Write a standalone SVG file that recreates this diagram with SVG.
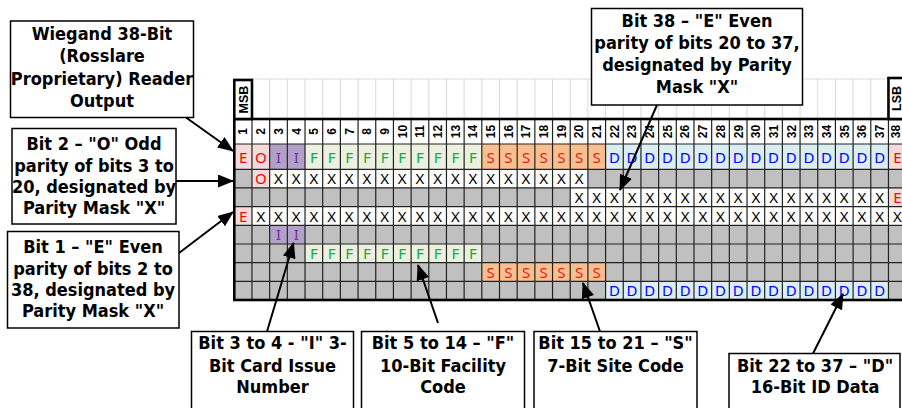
<svg xmlns="http://www.w3.org/2000/svg" width="902" height="408" viewBox="0 0 902 408">
<style>
.box{fill:#fff;stroke:#000;stroke-width:1.5}
.c{font-family:"DejaVu Sans","Liberation Sans",sans-serif;font-weight:bold;font-stretch:condensed;font-size:18px;text-anchor:middle;fill:#000}
.hn{font-family:"Liberation Sans",Arial,sans-serif;font-weight:bold;font-size:12px;text-anchor:middle;fill:#000}
.sb{font-family:"Liberation Sans",Arial,sans-serif;font-weight:bold;font-size:12.5px;text-anchor:middle;fill:#000}
.d{font-family:"Noto Sans","DejaVu Sans",sans-serif;font-size:15px;text-anchor:middle}
.r{fill:#FF0000}.p{fill:#7030A0}.g{fill:#00B050}.s{fill:#E01E1E}.b{fill:#0000FF}.k{fill:#000}
.pk{fill:#F2DCDB}.pu{fill:#B1A0C7}.gr{fill:#EBF1DE}.or{fill:#FABF8F}.bl{fill:#DAEEF3}.wh{fill:#fff}
.con{stroke:#000;stroke-width:2;fill:none;marker-end:url(#ah)}
</style>
<defs>
<marker id="ah" markerUnits="userSpaceOnUse" markerWidth="16" markerHeight="13" refX="15" refY="6.5" orient="auto" viewBox="0 0 16 13">
<path d="M0,0 L16,6.5 L0,13 z" fill="#000"/>
</marker>
</defs>
<rect width="902" height="408" fill="#fff"/>

<g id="grid">
<path d="M234.3 79H906.14M251.98 79V119M269.66 79V119M287.34 79V119M305.02 79V119M322.70 79V119M340.38 79V119M358.06 79V119M375.74 79V119M393.42 79V119M411.10 79V119M428.78 79V119M446.46 79V119M464.14 79V119M481.82 79V119M499.50 79V119M517.18 79V119M534.86 79V119M552.54 79V119M570.22 79V119M587.90 79V119M605.58 79V119M623.26 79V119M640.94 79V119M658.62 79V119M676.30 79V119M693.98 79V119M711.66 79V119M729.34 79V119M747.02 79V119M764.70 79V119M782.38 79V119M800.06 79V119M817.74 79V119M835.42 79V119M853.10 79V119M870.78 79V119" stroke="#D9D9D9" stroke-width="1" fill="none"/>
<rect x="234.3" y="119" width="671.84" height="25" class="wh"/>
<rect x="234.3" y="144" width="671.84" height="156" fill="#C0C0C0"/>
<rect x="234.3" y="144" width="35.36" height="25.3" class="pk"/>
<rect x="269.66" y="144" width="35.36" height="25.3" class="pu"/>
<rect x="305.02" y="144" width="176.8" height="25.3" class="gr"/>
<rect x="481.82" y="144" width="123.76" height="25.3" class="or"/>
<rect x="605.58" y="144" width="282.88" height="25.3" class="bl"/>
<rect x="888.46" y="144" width="17.68" height="25.3" class="pk"/>
<rect x="251.98" y="169.3" width="17.68" height="18.67" class="pk"/>
<rect x="269.66" y="169.3" width="318.24" height="18.67" class="wh"/>
<rect x="570.22" y="187.97" width="318.24" height="18.67" class="wh"/>
<rect x="888.46" y="187.97" width="17.68" height="18.67" class="pk"/>
<rect x="234.3" y="206.64" width="17.68" height="18.67" class="pk"/>
<rect x="251.98" y="206.64" width="654.16" height="18.67" class="wh"/>
<rect x="269.66" y="225.31" width="35.36" height="18.67" class="pu"/>
<rect x="305.02" y="243.98" width="176.8" height="18.67" class="gr"/>
<rect x="481.82" y="262.65" width="123.76" height="18.67" class="or"/>
<rect x="605.58" y="281.32" width="282.88" height="18.67" class="bl"/>
<path d="M251.98 119V300M269.66 119V300M287.34 119V300M305.02 119V300M322.70 119V300M340.38 119V300M358.06 119V300M375.74 119V300M393.42 119V300M411.10 119V300M428.78 119V300M446.46 119V300M464.14 119V300M481.82 119V300M499.50 119V300M517.18 119V300M534.86 119V300M552.54 119V300M570.22 119V300M587.90 119V300M605.58 119V300M623.26 119V300M640.94 119V300M658.62 119V300M676.30 119V300M693.98 119V300M711.66 119V300M729.34 119V300M747.02 119V300M764.70 119V300M782.38 119V300M800.06 119V300M817.74 119V300M835.42 119V300M853.10 119V300M870.78 119V300M888.46 119V300M234.3 144H906.14M234.3 169.3H906.14M234.3 187.97H906.14M234.3 206.64H906.14M234.3 225.31H906.14M234.3 243.98H906.14M234.3 262.65H906.14M234.3 281.32H906.14" stroke="#222" stroke-width="1.2" fill="none"/>
<rect x="234.3" y="119" width="671.84" height="181" fill="none" stroke="#000" stroke-width="2.6"/>
<rect x="234.3" y="80" width="17.68" height="39" fill="#fff" stroke="#000" stroke-width="2.6"/>
<rect x="888.46" y="78" width="17.68" height="41" fill="#fff" stroke="#000" stroke-width="2.6"/>
<text class="sb" transform="translate(247.6,99.5) rotate(-90)">MSB</text>
<text class="sb" transform="translate(900.6,98.5) rotate(-90)">LSB</text>
<g class="hn">
<text transform="translate(247.4,131.5) rotate(-90)">1</text>
<text transform="translate(265.1,131.5) rotate(-90)">2</text>
<text transform="translate(282.8,131.5) rotate(-90)">3</text>
<text transform="translate(300.5,131.5) rotate(-90)">4</text>
<text transform="translate(318.2,131.5) rotate(-90)">5</text>
<text transform="translate(335.8,131.5) rotate(-90)">6</text>
<text transform="translate(353.5,131.5) rotate(-90)">7</text>
<text transform="translate(371.2,131.5) rotate(-90)">8</text>
<text transform="translate(388.9,131.5) rotate(-90)">9</text>
<text transform="translate(406.6,131.5) rotate(-90)">10</text>
<text transform="translate(424.2,131.5) rotate(-90)">11</text>
<text transform="translate(441.9,131.5) rotate(-90)">12</text>
<text transform="translate(459.6,131.5) rotate(-90)">13</text>
<text transform="translate(477.3,131.5) rotate(-90)">14</text>
<text transform="translate(495.0,131.5) rotate(-90)">15</text>
<text transform="translate(512.6,131.5) rotate(-90)">16</text>
<text transform="translate(530.3,131.5) rotate(-90)">17</text>
<text transform="translate(548.0,131.5) rotate(-90)">18</text>
<text transform="translate(565.7,131.5) rotate(-90)">19</text>
<text transform="translate(583.4,131.5) rotate(-90)">20</text>
<text transform="translate(601.0,131.5) rotate(-90)">21</text>
<text transform="translate(618.7,131.5) rotate(-90)">22</text>
<text transform="translate(636.4,131.5) rotate(-90)">23</text>
<text transform="translate(654.1,131.5) rotate(-90)">24</text>
<text transform="translate(671.8,131.5) rotate(-90)">25</text>
<text transform="translate(689.4,131.5) rotate(-90)">26</text>
<text transform="translate(707.1,131.5) rotate(-90)">27</text>
<text transform="translate(724.8,131.5) rotate(-90)">28</text>
<text transform="translate(742.5,131.5) rotate(-90)">29</text>
<text transform="translate(760.2,131.5) rotate(-90)">30</text>
<text transform="translate(777.8,131.5) rotate(-90)">31</text>
<text transform="translate(795.5,131.5) rotate(-90)">32</text>
<text transform="translate(813.2,131.5) rotate(-90)">33</text>
<text transform="translate(830.9,131.5) rotate(-90)">34</text>
<text transform="translate(848.6,131.5) rotate(-90)">35</text>
<text transform="translate(866.2,131.5) rotate(-90)">36</text>
<text transform="translate(883.9,131.5) rotate(-90)">37</text>
<text transform="translate(900.4,131.5) rotate(-90)">38</text>
</g>
<text class="d" y="163"><tspan class="r" x="243.14 260.82">EO</tspan><tspan class="p" x="278.50 296.18">II</tspan><tspan class="g" x="313.86 331.54 349.22 366.90 384.58 402.26 419.94 437.62 455.30 472.98">FFFFFFFFFF</tspan><tspan class="s" x="490.66 508.34 526.02 543.70 561.38 579.06 596.74">SSSSSSS</tspan><tspan class="b" x="614.42 632.10 649.78 667.46 685.14 702.82 720.50 738.18 755.86 773.54 791.22 808.90 826.58 844.26 861.94 879.62">DDDDDDDDDDDDDDDD</tspan><tspan class="r" x="897.30">E</tspan></text>
<text class="d" y="184.3"><tspan class="r" x="260.82">O</tspan><tspan class="k" x="278.50 296.18 313.86 331.54 349.22 366.90 384.58 402.26 419.94 437.62 455.30 472.98 490.66 508.34 526.02 543.70 561.38 579.06">XXXXXXXXXXXXXXXXXX</tspan></text>
<text class="d" y="203"><tspan class="k" x="579.06 596.74 614.42 632.10 649.78 667.46 685.14 702.82 720.50 738.18 755.86 773.54 791.22 808.90 826.58 844.26 861.94 879.62">XXXXXXXXXXXXXXXXXX</tspan><tspan class="r" x="897.30">E</tspan></text>
<text class="d" y="221.6"><tspan class="r" x="243.14">E</tspan><tspan class="k" x="260.82 278.50 296.18 313.86 331.54 349.22 366.90 384.58 402.26 419.94 437.62 455.30 472.98 490.66 508.34 526.02 543.70 561.38 579.06 596.74 614.42 632.10 649.78 667.46 685.14 702.82 720.50 738.18 755.86 773.54 791.22 808.90 826.58 844.26 861.94 879.62 897.30">XXXXXXXXXXXXXXXXXXXXXXXXXXXXXXXXXXXXX</tspan></text>
<text class="d p" y="240.3" x="278.50 296.18">II</text>
<text class="d g" y="259" x="313.86 331.54 349.22 366.90 384.58 402.26 419.94 437.62 455.30 472.98">FFFFFFFFFF</text>
<text class="d s" y="277.6" x="490.66 508.34 526.02 543.70 561.38 579.06 596.74">SSSSSSS</text>
<text class="d b" y="296.3" x="614.42 632.10 649.78 667.46 685.14 702.82 720.50 738.18 755.86 773.54 791.22 808.90 826.58 844.26 861.94 879.62">DDDDDDDDDDDDDDDD</text>
</g>

<g id="title">
<rect class="box" x="10.5" y="21" width="183" height="96.5"/>
<text class="c" x="102" y="39.5">Wiegand 38-Bit</text>
<text class="c" x="102" y="62">(Rosslare</text>
<text class="c" x="102" y="84.5">Proprietary) Reader</text>
<text class="c" x="102" y="107">Output</text>
</g>
<g id="bit2">
<rect class="box" x="12" y="128.5" width="164" height="95.5"/>
<text class="c" x="94" y="150">Bit 2 – "O" Odd</text>
<text class="c" x="94" y="171.5">parity of bits 3 to</text>
<text class="c" x="94" y="192.8">20, designated by</text>
<text class="c" x="94" y="214.2">Parity Mask "X"</text>
</g>
<g id="bit1">
<rect class="box" x="7.5" y="231.5" width="171.5" height="96.5"/>
<text class="c" x="93" y="253.3">Bit 1 – "E" Even</text>
<text class="c" x="93" y="274.5">parity of bits 2 to</text>
<text class="c" x="93" y="296">38, designated by</text>
<text class="c" x="93" y="317">Parity Mask "X"</text>
</g>
<g id="bit38">
<rect class="box" x="591.5" y="8.5" width="211" height="96.5"/>
<text class="c" x="697" y="27.3">Bit 38 – "E" Even</text>
<text class="c" x="697" y="49.3">parity of bits 20 to 37,</text>
<text class="c" x="697" y="71">designated by Parity</text>
<text class="c" x="697" y="92.7">Mask "X"</text>
</g>
<g id="bits3-4">
<rect class="box" x="191.5" y="331.5" width="162" height="80"/>
<text class="c" x="272.5" y="349.3">Bit 3 to 4 - "I" 3-</text>
<text class="c" x="272.5" y="371.7">Bit Card Issue</text>
<text class="c" x="272.5" y="393.3">Number</text>
</g>
<g id="bits5-14">
<rect class="box" x="361.5" y="331.5" width="163" height="80"/>
<text class="c" x="443" y="349.3">Bit 5 to 14 – "F"</text>
<text class="c" x="443" y="371.7">10-Bit Facility</text>
<text class="c" x="443" y="393.3">Code</text>
</g>
<g id="bits15-21">
<rect class="box" x="534" y="331.5" width="163" height="80"/>
<text class="c" x="615.5" y="349.3">Bit 15 to 21 – "S"</text>
<text class="c" x="615.5" y="371.7">7-Bit Site Code</text>
</g>
<g id="bits22-37">
<rect class="box" x="729" y="353.5" width="171" height="60"/>
<text class="c" x="815" y="371.7">Bit 22 to 37 – "D"</text>
<text class="c" x="815" y="393.3">16-Bit ID Data</text>
</g>

<g id="connectors">
<line class="con" x1="186" y1="117.5" x2="233" y2="151"/>
<line class="con" x1="176" y1="181" x2="233" y2="181"/>
<line class="con" x1="179" y1="253" x2="233" y2="212"/>
<line class="con" x1="657" y1="105" x2="620" y2="190"/>
<line class="con" x1="267" y1="331.5" x2="293.5" y2="243"/>
<line class="con" x1="438" y1="323" x2="418" y2="265"/>
<line class="con" x1="600" y1="331.5" x2="583" y2="283"/>
<line class="con" x1="813" y1="353.5" x2="843" y2="294"/>
</g>
</svg>
